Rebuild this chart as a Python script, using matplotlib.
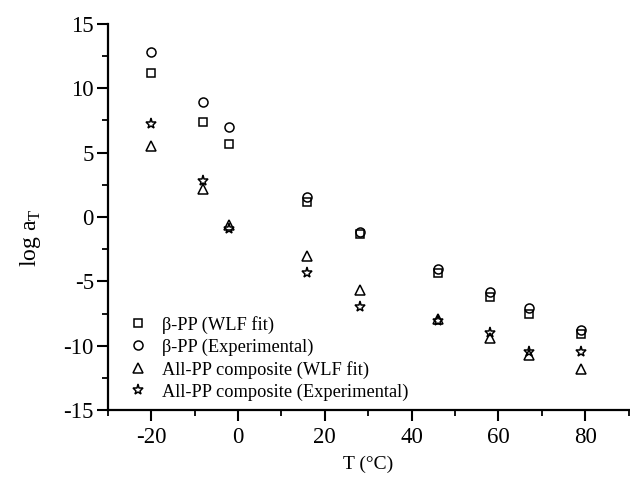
import matplotlib
matplotlib.use("Agg")
import matplotlib.pyplot as plt
from matplotlib.ticker import MultipleLocator

plt.rcParams['font.family'] = ['Liberation Serif', 'DejaVu Serif']
plt.rcParams['mathtext.fontset'] = 'custom'
plt.rcParams['mathtext.rm'] = 'Liberation Serif'
plt.rcParams['axes.unicode_minus'] = False

# temperatures (deg C)
temps = [-20, -8, -2, 16, 28, 46, 58, 67, 79]

# log aT values
bpp_wlf = [11.2, 7.35, 5.65, 1.2, -1.3, -4.35, -6.25, -7.5, -9.1]
bpp_exp = [12.85, 8.9, 7.0, 1.55, -1.2, -4.05, -5.85, -7.05, -8.75]
allpp_wlf = [5.5, 2.2, -0.6, -3.05, -5.65, -7.95, -9.4, -10.7, -11.8]
allpp_exp = [7.25, 2.8, -0.95, -4.35, -7.0, -8.05, -9.0, -10.5, -10.5]

labels = ["β-PP (WLF fit)", "β-PP (Experimental)",
          "All-PP composite (WLF fit)", "All-PP composite (Experimental)"]

fig = plt.figure(figsize=(6.3, 4.78), dpi=100)
ax = fig.add_axes([0.171, 0.142, 0.827, 0.808])

style = dict(linestyle="none", markerfacecolor="none", markeredgecolor="black",
             markeredgewidth=1.1)
ax.plot(temps, bpp_wlf, marker="s", markersize=6, label=labels[0], **style)
ax.plot(temps, bpp_exp, marker="o", markersize=6.5, label=labels[1], **style)
ax.plot(temps, allpp_wlf, marker="^", markersize=7.5, label=labels[2], **style)
ax.plot(temps, allpp_exp, marker="*", markersize=8, label=labels[3], **style)

ax.set_xlim(-30, 90)
ax.set_ylim(-15, 15)
ax.xaxis.set_major_locator(MultipleLocator(20))
ax.xaxis.set_minor_locator(MultipleLocator(10))
ax.yaxis.set_major_locator(MultipleLocator(5))
ax.yaxis.set_minor_locator(MultipleLocator(2.5))

for s in ["top", "right"]:
    ax.spines[s].set_visible(False)
for s in ["left", "bottom"]:
    ax.spines[s].set_linewidth(1.6)

ax.tick_params(which="major", length=8, width=1.5, direction="out")
ax.tick_params(which="minor", length=4, width=1.3, direction="out")
ax.tick_params(axis="x", labelsize=16.5, pad=4)
ax.tick_params(axis="y", labelsize=16.5, pad=2)

ax.set_xlabel("T (°C)", fontsize=14, labelpad=6)
ax.set_ylabel(r"log a$_{\mathrm{T}}$", fontsize=17)
ax.yaxis.set_label_coords(-0.125, 0.446)

ax.legend(loc="upper left", bbox_to_anchor=(0.205, 0.339), bbox_transform=fig.transFigure,
          frameon=False, fontsize=13.2, handletextpad=0.85, labelspacing=0.26,
          handlelength=0.95, borderaxespad=0, borderpad=0)

fig.savefig("out.png", dpi=100)
